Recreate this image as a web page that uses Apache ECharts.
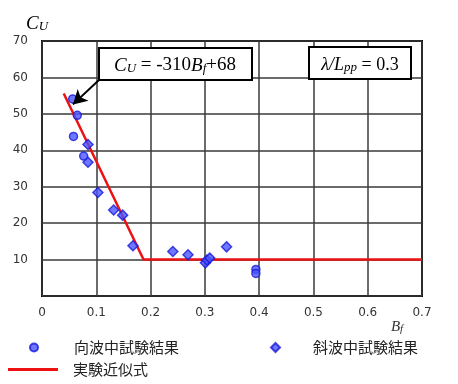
<!DOCTYPE html>
<html><head><meta charset="utf-8">
<script src="https://cdn.jsdelivr.net/npm/echarts@6/dist/echarts.min.js"></script>
<style>html,body{margin:0;padding:0;background:#fff}#c{width:458px;height:384px}</style>
</head><body><div id="c"></div>
<script>
// 向波中試験結果 (head waves)
const headX = [0.0565, 0.065, 0.058, 0.0768, 0.394, 0.394];
const headY = [54.1, 49.6, 43.8, 38.4, 7.3, 6.2];
// 斜波中試験結果 (oblique waves)
const oblX = [0.0847, 0.0847, 0.103, 0.132, 0.1486, 0.1676, 0.241, 0.269, 0.301, 0.304, 0.309, 0.340];
const oblY = [41.6, 36.7, 28.4, 23.6, 22.2, 13.8, 12.2, 11.3, 9.1, 9.9, 10.4, 13.5];
// 実験近似式 Cu = -310 Bf + 68, floor 10
const fitX = [0.04, 0.187, 0.7];
const fitY = [55.6, 10, 10];
const xTicks = [0, 0.1, 0.2, 0.3, 0.4, 0.5, 0.6, 0.7];
const yTicks = [10, 20, 30, 40, 50, 60, 70];
const arrowFrom = [0.105, 59.3];
const arrowTo = [0.057, 52.6];

const zip = (a, b) => a.map((v, i) => [v, b[i]]);
const chart = echarts.init(document.getElementById('c'), null, {renderer: 'canvas'});
const serif = 'Liberation Serif';
const cjk = 'Noto Sans CJK JP';
const tickFont = {color: '#333', fontFamily: 'DejaVu Sans', fontSize: 12};
const legText = {fontFamily: cjk, fontSize: 15, color: '#222'};

chart.setOption({
  animation: false,
  backgroundColor: '#fff',
  grid: {left: 42, top: 41, width: 380, height: 255, show: true, borderColor: '#000', borderWidth: 2, backgroundColor: 'transparent'},
  xAxis: {
    type: 'value', min: 0, max: 0.7, interval: 0.1,
    axisLine: {show: false}, axisTick: {show: false},
    splitLine: {lineStyle: {color: '#3a3a3a', width: 1.5}},
    axisLabel: Object.assign({margin: 11, formatter: v => xTicks.includes(+v.toFixed(1)) ? (v === 0 ? '0' : v.toFixed(1)) : ''}, tickFont)
  },
  yAxis: {
    type: 'value', min: 0, max: 70, interval: 10,
    axisLine: {show: false}, axisTick: {show: false},
    splitLine: {lineStyle: {color: '#3a3a3a', width: 1.5}},
    axisLabel: Object.assign({margin: 14, formatter: v => yTicks.includes(v) ? String(v) : ''}, tickFont)
  },
  legend: [
    {left: 29, top: 340, padding: 0, itemWidth: 8, itemHeight: 8, itemGap: 0, data: ['向波中試験結果'],
     textStyle: Object.assign({padding: [0, 0, 0, 31]}, legText)},
    {left: 270, top: 340, padding: 0, itemWidth: 9, itemHeight: 9, itemGap: 0, data: ['斜波中試験結果'],
     textStyle: Object.assign({padding: [0, 0, 0, 28]}, legText)},
    {left: 8, top: 362, padding: 0, itemWidth: 50, itemHeight: 3, itemGap: 0, data: [{name: '実験近似式', icon: 'rect'}],
     textStyle: Object.assign({padding: [0, 0, 0, 10]}, legText)}
  ],
  series: [
    {name: '実験近似式', type: 'line', data: zip(fitX, fitY), symbol: 'none', z: 3,
     lineStyle: {color: '#ee1111', width: 2.5}, itemStyle: {color: '#ee1111'},
     markLine: {silent: true, symbol: ['none', 'arrow'], symbolSize: [12, 14], label: {show: false},
       lineStyle: {color: '#000', width: 2, type: 'solid'},
       data: [[{coord: arrowFrom}, {coord: arrowTo}]]}},
    {name: '向波中試験結果', type: 'scatter', data: zip(headX, headY), symbol: 'circle', symbolSize: 8, z: 4,
     itemStyle: {color: '#4a55ff', borderColor: '#1a1ad8', borderWidth: 1.5}},
    {name: '斜波中試験結果', type: 'scatter', data: zip(oblX, oblY), symbol: 'diamond', symbolSize: 10, z: 4,
     itemStyle: {color: '#4a55ff', borderColor: '#1a1ad8', borderWidth: 1.5}}
  ],
  graphic: [
    {type: 'rect', shape: {x: 99, y: 48, width: 153, height: 32}, style: {fill: '#fff', stroke: '#000', lineWidth: 2}, z: 10},
    {type: 'text', x: 175, y: 64, z: 11, style: {
      text: '{i|C}{s|U}{n| = -310}{i|B}{s|f}{n|+68}', align: 'center', verticalAlign: 'middle',
      rich: {
        i: {fontFamily: serif, fontStyle: 'italic', fontSize: 19, lineHeight: 22, verticalAlign: 'bottom', fill: '#000'},
        n: {fontFamily: serif, fontSize: 19, lineHeight: 22, verticalAlign: 'bottom', fill: '#000'},
        s: {fontFamily: serif, fontStyle: 'italic', fontSize: 13, lineHeight: 12, verticalAlign: 'bottom', fill: '#000'}
      }}},
    {type: 'rect', shape: {x: 309, y: 47, width: 102, height: 32}, style: {fill: '#fff', stroke: '#000', lineWidth: 2}, z: 10},
    {type: 'text', x: 360, y: 63, z: 11, style: {
      text: '{i|λ/L}{s|pp}{n| = 0.3}', align: 'center', verticalAlign: 'middle',
      rich: {
        i: {fontFamily: serif, fontStyle: 'italic', fontSize: 18, lineHeight: 22, verticalAlign: 'bottom', fill: '#000'},
        n: {fontFamily: serif, fontSize: 18, lineHeight: 22, verticalAlign: 'bottom', fill: '#000'},
        s: {fontFamily: serif, fontStyle: 'italic', fontSize: 13, lineHeight: 12, verticalAlign: 'bottom', fill: '#000'}
      }}},
    {type: 'text', x: 37, y: 22, z: 11, style: {
      text: '{i|C}{s|U}', align: 'center', verticalAlign: 'middle',
      rich: {
        i: {fontFamily: serif, fontStyle: 'italic', fontSize: 19, lineHeight: 22, verticalAlign: 'bottom', fill: '#000'},
        s: {fontFamily: serif, fontStyle: 'italic', fontSize: 13, lineHeight: 12, verticalAlign: 'bottom', fill: '#000'}
      }}},
    {type: 'text', x: 397, y: 326, z: 11, style: {
      text: '{i|B}{s|f}', align: 'center', verticalAlign: 'middle',
      rich: {
        i: {fontFamily: serif, fontStyle: 'italic', fontSize: 15, lineHeight: 18, verticalAlign: 'bottom', fill: '#333'},
        s: {fontFamily: serif, fontStyle: 'italic', fontSize: 11, lineHeight: 10, verticalAlign: 'bottom', fill: '#333'}
      }}}
  ]
});
</script></body></html>
